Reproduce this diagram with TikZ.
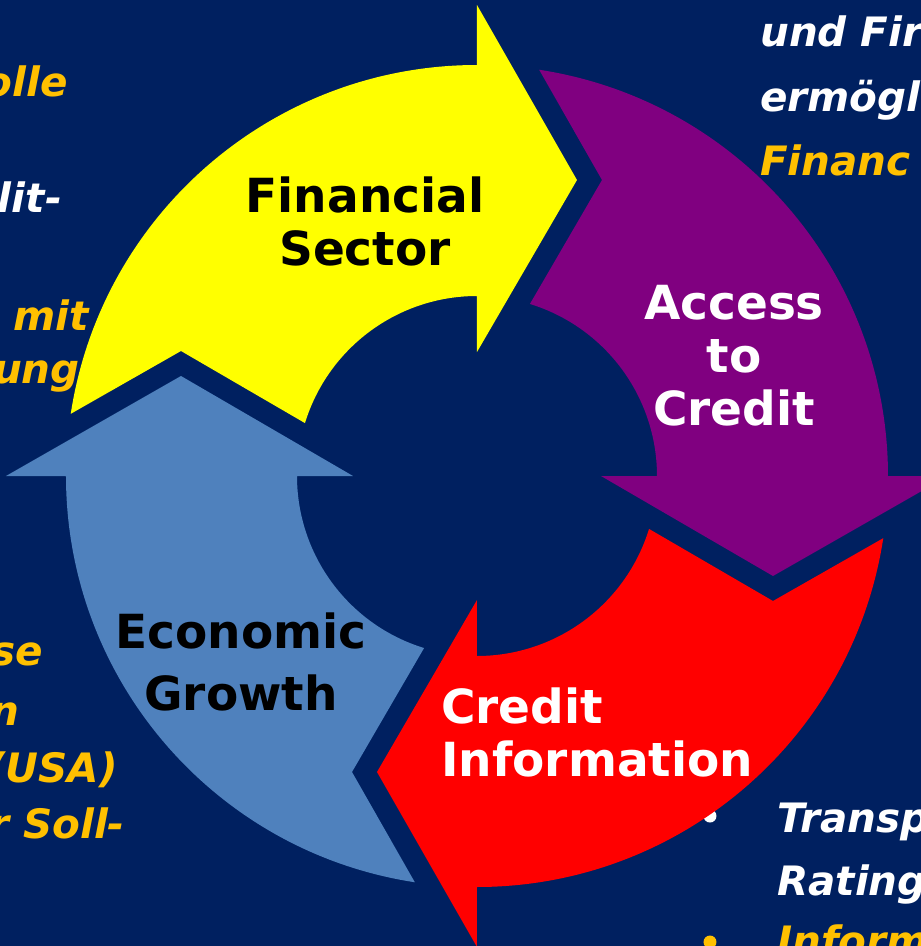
\documentclass[tikz,border=0pt]{standalone}
\usepackage{fontspec}
\setmainfont{DejaVu Sans}[BoldFont={DejaVu Sans Bold}, ItalicFont={DejaVu Sans Oblique}, BoldItalicFont={DejaVu Sans Bold Oblique}]
\usepackage{tikz}
\definecolor{slidebg}{RGB}{0,32,96}
\definecolor{cycyellow}{RGB}{255,255,0}
\definecolor{cycpurple}{RGB}{128,0,128}
\definecolor{cycred}{RGB}{255,0,0}
\definecolor{cycblue}{RGB}{79,129,189}
\definecolor{notegold}{RGB}{255,192,0}
\tikzset{
    cyclabel/.style={font=\fontsize{47}{53}\selectfont\bfseries, inner sep=0pt, align=center},
    sidenote/.style={font=\fontsize{40.5}{46}\selectfont\bfseries\itshape, inner sep=0pt}
}

\begin{document}
\begin{tikzpicture}[x=1pt, y=1pt]
        \useasboundingbox (-477,-470) rectangle (444,476);
        \clip (-477,-470) rectangle (444,476);
        \fill[slidebg] (-477,-470) rectangle (444,476);

        \node[sidenote, text=notegold, anchor=base east] (leftolle) at (-409,379) {olle};
        \node[sidenote, text=white, anchor=base east] (leftlit) at (-415,264) {lit-};
        \node[sidenote, text=notegold, anchor=base east] (leftmit) at (-388,146) {mit};
        \node[sidenote, text=notegold, anchor=base east] (leftung) at (-397,93) {ung};
        \node[sidenote, text=notegold, anchor=base east] (leftse) at (-434,-189) {se};
        \node[sidenote, text=notegold, anchor=base east] (leftn) at (-457,-249) {n};
        \node[sidenote, text=notegold, anchor=base east] (leftusa) at (-359,-306) {(USA)};
        \node[sidenote, text=notegold, anchor=base east] (leftsoll) at (-352,-362) {r Soll-};

        \node[sidenote, text=white, anchor=base west] (rightund) at (283,429) {und Fir};
        \node[sidenote, text=white, anchor=base west] (rightermog) at (283,364) {ermögl};
        \fill[notegold] (217,316) circle (6.5pt);
        \node[sidenote, text=notegold, anchor=base west] (rightfinanc) at (283,301) {Financ};

        \fill[white] (233,-340) circle (6.5pt);
        \node[sidenote, text=white, anchor=base west] (righttransp) at (300,-356) {Transp};
        \node[sidenote, text=white, anchor=base west] (rightrating) at (300,-419) {Rating};
        \fill[notegold] (233,-466) circle (6.5pt);
        \node[sidenote, text=notegold, anchor=base west] (rightinform) at (300,-479) {Inform};

        \foreach \ang/\col in {0/cycyellow, -90/cycpurple, 180/cycred, 90/cycblue}
            \fill[\col, rotate=\ang] (171.3:411pt) arc[start angle=171.3, end angle=90, radius=411pt]
                -- (0,471) -- (100,296) -- (0,124) -- (0,180)
                arc[start angle=90, end angle=162.9, radius=180pt] -- (-296,125) -- cycle;

        \node[cyclabel, text=black] (finsector) at (-112,255) {Financial\\Sector};
        \node[cyclabel, text=white] (access) at (257,120) {Access\\to\\Credit};
        \node[cyclabel, text=white, align=left, anchor=west] (creditinfo) at (-36,-256) {Credit\\Information};
        \node[cyclabel, text=black, font=\fontsize{47}{62}\selectfont\bfseries] (growth) at (-236,-186) {Economic\\Growth};
\end{tikzpicture}
\end{document}
